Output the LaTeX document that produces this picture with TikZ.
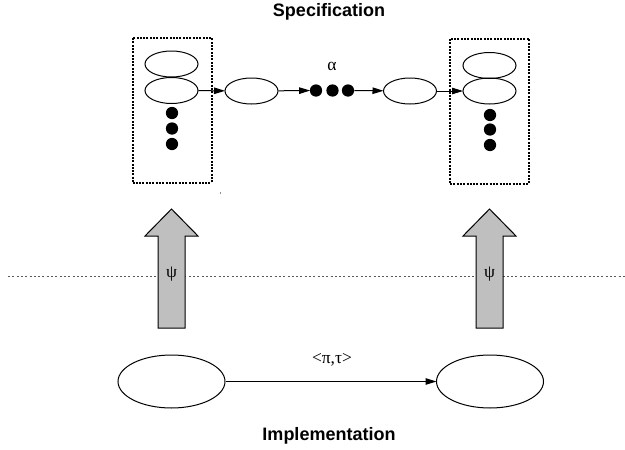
\documentclass[tikz,border=0pt]{standalone}
\usepackage{fontspec}
\setmainfont{Liberation Serif}
\newfontfamily\hvfont{Liberation Sans}
\usetikzlibrary{arrows.meta,shapes.geometric}

\tikzset{
  state/.style={draw=black, line width=1pt, ellipse, inner sep=0pt,
                minimum width=53pt, minimum height=26pt},
  bigstate/.style={state, minimum width=107pt, minimum height=53pt},
  blob/.style={circle, fill=black, inner sep=0pt, minimum size=12.3pt},
  setbox/.style={draw=black, line width=2pt, dash pattern=on 2pt off 1.3pt,
                 inner sep=0pt, minimum width=79pt, minimum height=145pt},
  trans/.style={line width=1pt, -{Triangle[length=11pt,width=6.5pt]}, shorten >=-0.5pt},
  liftarrow/.style={draw=black, line width=1pt, fill=black!25},
  greek/.style={font=\fontsize{17.5}{20}\selectfont, inner sep=0pt},
  heading/.style={font=\hvfont\bfseries\fontsize{18}{21}\selectfont, inner sep=0pt},
  levelline/.style={draw=black!65, line width=1pt, dash pattern=on 2pt off 2.3pt}
}

\begin{document}
\begin{tikzpicture}[x=1pt,y=-1pt]
\useasboundingbox (0,0) rectangle (625,450);

% headings
\node[heading] (spec) at (329,11.5) {Specification};
\node[heading] (impl) at (329,436) {Implementation};

% boundary between the two levels
\coordinate (lineL) at (8,276);
\coordinate (lineR) at (625,276);
\draw[levelline] (lineL) -- (lineR);

% left set of states
\node[setbox] (boxL) at (172,110) {};
\node[state] (l1) at (171.5,64) {};
\node[state] (l2) at (171.5,90.5) {};
\node[blob] (ld1) at (172,113) {};
\node[blob] (ld2) at (172,128.5) {};
\node[blob] (ld3) at (172,144) {};

% run in the middle
\node[state] (m1) at (251.5,91) {};
\node[blob] (md1) at (316,90.5) {};
\node[blob] (md2) at (332.5,90.5) {};
\node[blob] (md3) at (348,90.5) {};
\node[state] (m2) at (410,91) {};
\node[greek] (alpha) at (332,66.5) {α};

% right set of states
\node[setbox] (boxR) at (489.5,111) {};
\node[state] (r1) at (489.5,65.5) {};
\node[state] (r2) at (489.5,91) {};
\node[blob] (rd1) at (490,115) {};
\node[blob] (rd2) at (490,129.5) {};
\node[blob] (rd3) at (490,145) {};

\draw[trans] (l2) -- (m1);
\draw[trans] (m1) -- (md1);
\draw[trans] (md3) -- (m2);
\draw[trans] (m2) -- (r2);

% stray speck under the left box
\fill[black!45] (220.3,191.5) rectangle (221.3,193.5);

% abstraction arrows
\draw[liftarrow] (158,328) -- (158,236) -- (145,236) -- (171.5,209) -- (198,236)
  -- (185,236) -- (185,328) -- cycle;
\draw[liftarrow] (476,328) -- (476,236) -- (463,236) -- (489.5,209) -- (516,236)
  -- (503,236) -- (503,328) -- cycle;
\node[greek] (psiL) at (171.5,274) {ψ};
\node[greek] (psiR) at (489.5,274) {ψ};

% implementation level
\node[bigstate] (b1) at (171.5,381.5) {};
\node[bigstate] (b2) at (490,381.5) {};
\draw[trans] (b1) -- (b2);
\node[greek] (pitau) at (332,360) {<π,τ>};
\end{tikzpicture}
\end{document}
